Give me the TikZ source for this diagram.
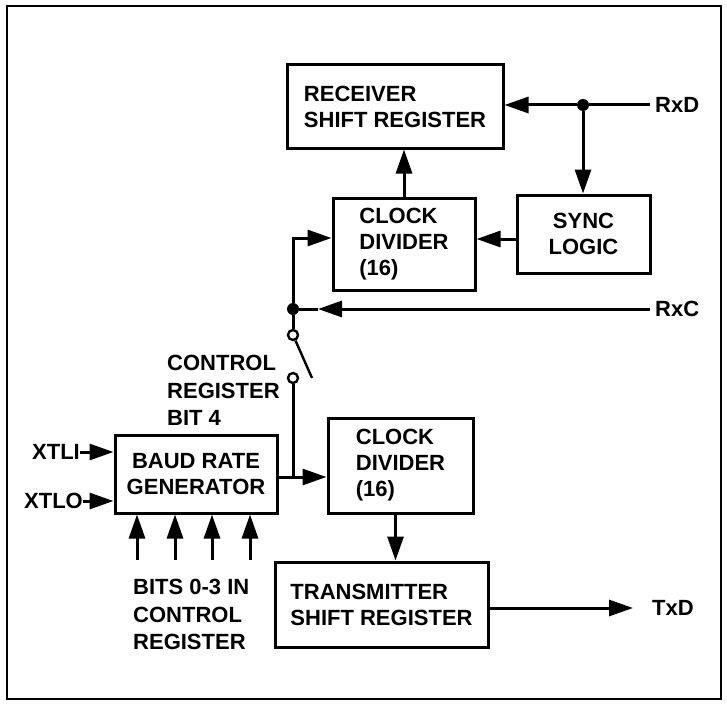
\documentclass[tikz,border=0pt]{standalone}
\usepackage{fontspec}
\setmainfont{Liberation Sans}
\usetikzlibrary{arrows.meta,positioning,calc}

\begin{document}
\begin{tikzpicture}[x=1pt, y=-1pt, >={Triangle[length=24pt,width=16pt]},
  blk/.style={draw, line width=3pt, inner sep=0pt, align=left, font=\bfseries\fontsize{22}{26}\selectfont},
  lbl/.style={inner sep=0pt, align=left, font=\bfseries\fontsize{22}{27.5}\selectfont},
  wire/.style={line width=3pt},
  jdot/.style={circle, fill, inner sep=0pt, minimum size=12pt},
  swc/.style={circle, draw, line width=2.4pt, fill=white, inner sep=0pt, minimum size=10pt}]

  \useasboundingbox (0,0) rectangle (727,706);
  \draw[line width=2.4pt] (7,6) rectangle (721,699);

  % Receiver side
  \node[blk, minimum width=216pt, minimum height=83pt] (rsr) at (395,106.5) {RECEIVER\\SHIFT REGISTER};
  \node[blk, minimum width=142pt, minimum height=92pt] (cdu) at (404,244) {CLOCK\\DIVIDER\\(16)};
  \node[blk, align=center, minimum width=133pt, minimum height=78pt] (sync) at (583.5,234) {SYNC\\LOGIC};

  % RxD input
  \node[lbl, anchor=west] (rxdt) at (655,105) {RxD};
  \coordinate (rxd) at (650,105);
  \node[jdot] (jd) at (583,105) {};
  \draw[wire] (rxd) -- (jd);
  \draw[wire, ->] (jd) -- (rsr.east |- jd);
  \draw[wire, ->] (jd) -- (sync.north -| jd);
  \draw[wire, ->] (cdu.north) -- (rsr.south -| cdu.north);
  \coordinate (syo) at ($(sync.west)+(0,5)$);
  \draw[wire, ->] (syo) -- (cdu.east |- syo);

  % RxC input and clock select
  \node[lbl, anchor=west] (rxct) at (655,309) {RxC};
  \coordinate (rxc) at (650,309);
  \coordinate (rxctip) at (318,309);
  \node[jdot] (jc) at (293,309) {};
  \draw[wire, ->] (rxc) -- (rxctip);
  \draw[wire] (rxctip) -- (jc);
  \draw[wire, ->] (jc) |- ($(cdu.west)+(0,-6)$);

  % Switch (control register bit 4)
  \node[swc] (swa) at (293,335) {};
  \node[swc] (swb) at (293,378) {};
  \coordinate (swl) at (312,378);
  \draw[wire] (jc) -- (swa);
  \draw[line width=2.4pt] (swa.-66) -- (swl);
  \node[lbl, anchor=north west] (bitf) at (167,355) {CONTROL\\REGISTER\\BIT 4};

  % Baud rate generator
  \node[blk, align=center, minimum width=162pt, minimum height=78pt] (brg) at (196,474) {BAUD RATE\\GENERATOR};
  \node[lbl, anchor=east] (xtli) at (80,452) {XTLI};
  \node[lbl, anchor=east] (xtlo) at (83,501) {XTLO};
  \draw[wire, ->] (xtli.east) -- (brg.west |- xtli.east);
  \draw[wire, ->] (xtlo.east) -- (brg.west |- xtlo.east);
  \foreach \bx [count=\i] in {137,175,212,250} {
    \coordinate (bit\i) at (\bx,560);
    \draw[wire, ->] (bit\i) -- (bit\i |- brg.south);
  }
  \node[lbl, anchor=north west] (bitl) at (133,579) {BITS 0-3 IN\\CONTROL\\REGISTER};

  % Transmitter side
  \node[blk, minimum width=145pt, minimum height=95pt] (cdl) at (400.5,465.5) {CLOCK\\DIVIDER\\(16)};
  \node[blk, minimum width=213pt, minimum height=85pt] (tsr) at (381.5,604.5) {TRANSMITTER\\SHIFT REGISTER};
  \coordinate (jb) at (293,477);
  \draw[wire] (swb) -- (jb);
  \draw[wire, ->] (brg.east |- jb) -- (cdl.west |- jb);
  \draw[wire, ->] ($(cdl.south)+(-5,0)$) -- ($(cdl.south |- tsr.north)+(-5,0)$);

  % TxD output
  \coordinate (txd) at (633,608);
  \node[lbl, anchor=west] (txdt) at (652,608) {TxD};
  \draw[wire, ->] (tsr.east |- txd) -- (txd);
\end{tikzpicture}
\end{document}
